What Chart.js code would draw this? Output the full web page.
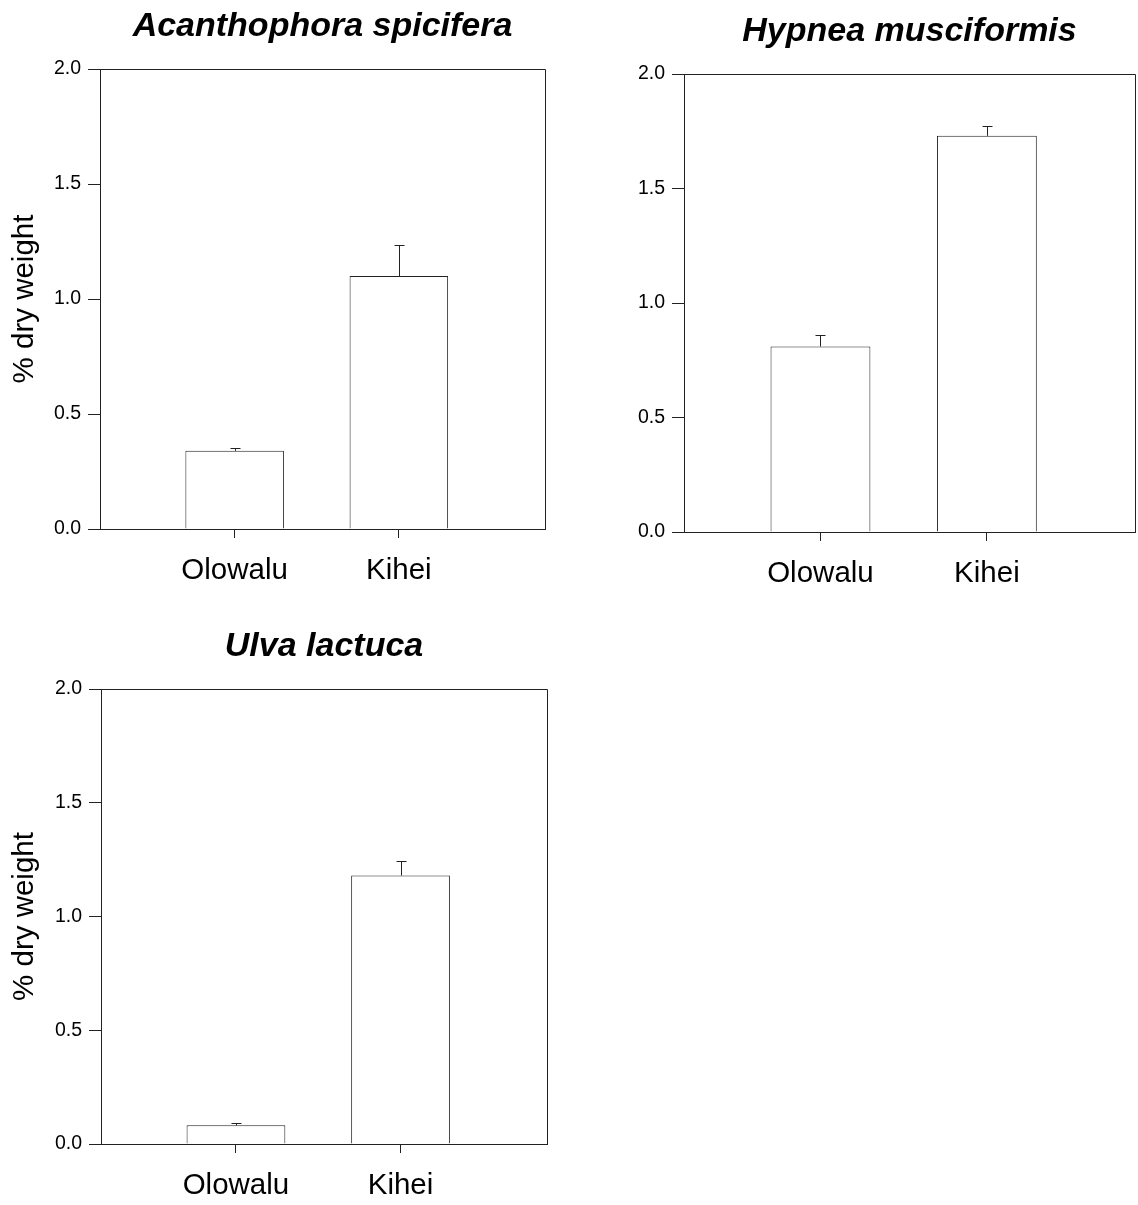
<!DOCTYPE html>
<html>
<head>
<meta charset="utf-8">
<script src="https://cdn.jsdelivr.net/npm/chart.js@4.4.1/dist/chart.umd.min.js"></script>
<style>
  html, body { margin: 0; padding: 0; background: #fff; }
  body { width: 1138px; height: 1205px; position: relative; overflow: hidden; }
  canvas { position: absolute; }
</style>
</head>
<body>
<canvas id="acan" width="645" height="600" style="left:0;top:0"></canvas>
<canvas id="hyp" width="538" height="600" style="left:600px;top:5px"></canvas>
<canvas id="ulva" width="645" height="585" style="left:0;top:620px"></canvas>
<script>
const FONT = '"Liberation Sans", Arial, sans-serif';
Chart.defaults.font.family = FONT;
Chart.defaults.color = '#000';

const sites = ['Olowalu', 'Kihei'];
const sitePos = [1, 2];

const acanMeans = [0.34, 1.10];
const acanErr = [0.014, 0.134];

const hypMeans = [0.81, 1.73];
const hypErr = [0.05, 0.045];

const ulvaMeans = [0.082, 1.18];
const ulvaErr = [0.012, 0.064];

const yTickValues = [0, 0.5, 1.0, 1.5, 2.0];

// upper-only error bars with a small cap
const errorBars = {
  id: 'errorBars',
  afterDatasetsDraw(chart, args, opts) {
    const ctx = chart.ctx;
    const yScale = chart.scales.y;
    const meta = chart.getDatasetMeta(0);
    const ds = chart.data.datasets[0];
    ctx.save();
    ctx.strokeStyle = '#222';
    ctx.lineWidth = 1;
    meta.data.forEach((bar, i) => {
      const top = Math.round(yScale.getPixelForValue(ds.data[i].y + opts.err[i])) + 0.5;
      const x = Math.round(bar.x) + 0.5;
      ctx.beginPath();
      ctx.moveTo(x, bar.y);
      ctx.lineTo(x, top);
      ctx.moveTo(x - 5, top);
      ctx.lineTo(x + 5, top);
      ctx.stroke();
    });
    ctx.restore();
  },
};

// frame round the plot area (top and right sides)
const frame = {
  id: 'frame',
  afterDraw(chart) {
    const a = chart.chartArea;
    const ctx = chart.ctx;
    ctx.save();
    ctx.strokeStyle = '#222';
    ctx.lineWidth = 1;
    ctx.beginPath();
    ctx.moveTo(a.left, Math.round(a.top) + 0.5);
    ctx.lineTo(Math.round(a.right) + 0.5, Math.round(a.top) + 0.5);
    ctx.lineTo(Math.round(a.right) + 0.5, a.bottom);
    ctx.stroke();
    ctx.restore();
  },
};

function renderPanel(canvasId, title, means, errs, opt) {
  const ctx = document.getElementById(canvasId).getContext('2d');
  return new Chart(ctx, {
    type: 'bar',
    data: {
      datasets: [{
        data: means.map((v, i) => ({ x: sitePos[i], y: v })),
        backgroundColor: '#fff',
        borderColor: '#222',
        borderWidth: 1,
        borderSkipped: 'bottom',
        barPercentage: 0.6,
        categoryPercentage: 1,
      }],
    },
    options: {
      responsive: false,
      animation: false,
      layout: { padding: { right: opt.padRight, left: 0, top: 0, bottom: 0 } },
      plugins: {
        legend: { display: false },
        tooltip: { enabled: false },
        title: {
          display: true,
          text: title,
          fullSize: false,
          font: { size: 34, weight: 'bold', style: 'italic' },
          color: '#000',
          padding: { top: 6, bottom: 22.2 },
        },
        errorBars: { err: errs },
      },
      scales: {
        x: {
          type: 'linear',
          offset: false,
          min: 0.18,
          max: 2.89,
          afterBuildTicks: (axis) => { axis.ticks = sitePos.map(v => ({ value: v })); },
          afterFit: (axis) => { axis.height = opt.xAxisH; },
          ticks: {
            callback: (v) => sites[sitePos.indexOf(v)],
            font: { size: 29.5 },
            color: '#000',
            padding: 15,
            maxRotation: 0,
            autoSkip: false,
          },
          grid: { offset: false, drawOnChartArea: false, drawTicks: true, tickLength: 9, color: '#222' },
          border: { display: true, color: '#222', width: 1 },
        },
        y: {
          min: 0,
          max: 2,
          afterBuildTicks: (axis) => { axis.ticks = yTickValues.map(v => ({ value: v })); },
          afterFit: (axis) => { axis.width = opt.yAxisW; },
          ticks: {
            callback: (v) => v.toFixed(1),
            font: { size: 19.5 },
            color: '#000',
            padding: 7,
          },
          grid: { drawOnChartArea: false, drawTicks: true, tickLength: 12, color: '#222' },
          border: { display: true, color: '#222', width: 1 },
          title: {
            display: opt.yTitle,
            text: '% dry weight',
            font: { size: 29.5 },
            color: '#000',
            padding: { top: 7, bottom: 0 },
          },
        },
      },
    },
    plugins: [errorBars, frame],
  });
}

renderPanel('acan', 'Acanthophora spicifera', acanMeans, acanErr,
  { padRight: 100, yAxisW: 100, xAxisH: 71, yTitle: true });
renderPanel('hyp', 'Hypnea musciformis', hypMeans, hypErr,
  { padRight: 3, yAxisW: 84, xAxisH: 73, yTitle: false });
renderPanel('ulva', 'Ulva lactuca', ulvaMeans, ulvaErr,
  { padRight: 98, yAxisW: 101, xAxisH: 61, yTitle: true });
</script>
</body>
</html>
